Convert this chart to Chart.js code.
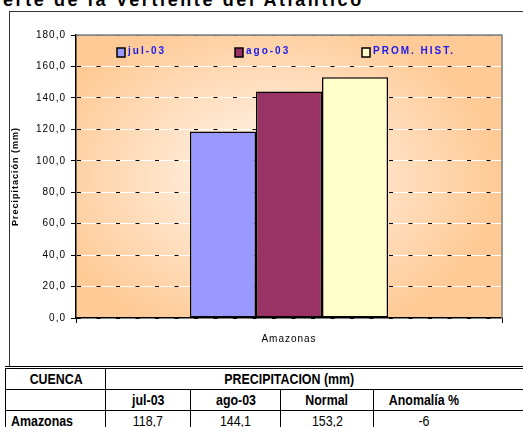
<!DOCTYPE html>
<html>
<head>
<meta charset="utf-8">
<script src="https://cdn.jsdelivr.net/npm/chart.js@4.4.0/dist/chart.umd.min.js"></script>
<style>
  html, body { margin: 0; padding: 0; background: #fff; width: 523px; height: 427px; overflow: hidden; position: relative; font-family: Arial, "Liberation Sans", sans-serif; }
  #title { position: absolute; left: 3px; top: -9px; font-size: 18px; line-height: 18px; font-weight: bold; letter-spacing: 2.6px; white-space: nowrap; color: #000; }
  #frame { position: absolute; left: 9px; top: 11px; width: 540px; height: 356px; border: 1px solid #333; box-sizing: border-box; }
  #chartBox { position: absolute; left: 0; top: 0; width: 523px; height: 366px; }
  #tbl { position: absolute; left: 5px; top: 366px; border-collapse: collapse; table-layout: fixed; font-family: Arial, "Liberation Sans", sans-serif; font-size: 15.5px; color: #000; border-top: 3px double #000; }
  #tbl td { border: 1px solid #000; height: 20px; padding: 0; text-align: center; white-space: nowrap; }
  #tbl td span { display: inline-block; transform: scaleX(0.8); transform-origin: center; }
  #tbl td.b { font-weight: bold; }
  #tbl td.l { text-align: left; padding-left: 5px; }
  #tbl td.l span { transform-origin: left center; }
  #tbl td.last { padding-right: 50px; border-right: none; }
</style>
</head>
<body>
<div id="title">erte de la Vertiente del Atlántico</div>
<div id="frame"></div>
<div id="chartBox"><canvas id="chart" width="523" height="366"></canvas></div>
<table id="tbl">
  <colgroup><col style="width:101px"><col style="width:86px"><col style="width:92px"><col style="width:94px"><col style="width:150px"></colgroup>
  <tbody id="tblBody"></tbody>
</table>
<script>
// Chart data
const categories = ['Amazonas'];
const seriesLabels = ['jul-03', 'ago-03', 'PROM. HIST.'];
const jul03 = [118.7];
const ago03 = [144.1];
const promHist = [153.2];
const anomalia = [-6];
const tableHeads = ['jul-03', 'ago-03', 'Normal', 'Anomalía %'];
const yMin = 0, yMax = 180, yStep = 20;

const barColors = ['#9999ff', '#993366', '#ffffcc'];

function fmt(v) {
    return v.toFixed(1).replace('.', ',');
}

// Fill the table below the chart
function populateTable() {
    const body = document.getElementById('tblBody');
    let html = '<tr><td class="b"><span>CUENCA</span></td><td class="b last" colspan="4"><span>PRECIPITACION (mm)</span></td></tr>';
    html += '<tr><td></td>' + tableHeads.map((h, i) =>
        `<td class="b${i === tableHeads.length - 1 ? ' last' : ''}"><span>${h}</span></td>`).join('') + '</tr>';
    html += categories.map((c, i) => `
        <tr>
            <td class="b l"><span>${c}</span></td>
            <td><span>${fmt(jul03[i])}</span></td>
            <td><span>${fmt(ago03[i])}</span></td>
            <td><span>${fmt(promHist[i])}</span></td>
            <td class="last"><span>${anomalia[i]}</span></td>
        </tr>`).join('');
    body.innerHTML = html;
}

// Orange "from center" fill behind the plot
const plotBackground = {
    id: 'plotBackground',
    beforeDraw(chart) {
        const { ctx, chartArea: a } = chart;
        const cx = a.left + a.width * 0.45, cy = a.top + a.height * 0.5;
        ctx.save();
        ctx.translate(cx, cy);
        ctx.scale(1, 0.72);
        const g = ctx.createRadialGradient(0, 0, 0, 0, 0, 230);
        g.addColorStop(0, '#fff4ea');
        g.addColorStop(0.35, '#ffe8d2');
        g.addColorStop(1, '#ffca96');
        ctx.fillStyle = g;
        ctx.fillRect(a.left - cx, (a.top - cy) / 0.72, a.width, a.height / 0.72);
        ctx.restore();
        ctx.letterSpacing = '1px';
    },
    afterDraw(chart) {
        // grey plot border on top and right
        const { ctx, chartArea: a } = chart;
        ctx.save();
        ctx.strokeStyle = '#808080';
        ctx.lineWidth = 1.5;
        ctx.beginPath();
        ctx.moveTo(a.left, a.top);
        ctx.lineTo(a.right, a.top);
        ctx.lineTo(a.right, a.bottom);
        ctx.stroke();
        ctx.restore();
    }
};

// Legend drawn inside the plot, like the original
const insideLegend = {
    id: 'insideLegend',
    afterDatasetsDraw(chart) {
        const { ctx, chartArea: a } = chart;
        const offsets = [41, 159, 286];
        chart.data.datasets.forEach((ds, i) => {
            const x = a.left + offsets[i], y = a.top + 13;
            ctx.save();
            ctx.fillStyle = ds.backgroundColor;
            ctx.fillRect(x, y, 8, 9);
            ctx.strokeStyle = '#000';
            ctx.lineWidth = 1.5;
            ctx.strokeRect(x, y, 8, 9);
            ctx.fillStyle = '#1a1aee';
            ctx.font = 'bold 10px Arial';
            ctx.letterSpacing = '2px';
            ctx.textBaseline = 'middle';
            ctx.fillText(ds.label, x + 11, y + 3);
            ctx.restore();
        });
    }
};

function createBarChart(ctx) {
    const series = [jul03, ago03, promHist];
    return new Chart(ctx, {
        type: 'bar',
        data: {
            labels: categories,
            datasets: series.map((d, i) => ({
                label: seriesLabels[i],
                data: d,
                backgroundColor: barColors[i],
                borderColor: '#000',
                borderWidth: 1.5,
                borderSkipped: false,
                categoryPercentage: 0.465,
                barPercentage: 1,
                yAxisID: 'y'
            }))
        },
        options: {
            responsive: false,
            animation: false,
            events: [],
            layout: { padding: { left: 10, right: 21, top: 35, bottom: 0 } },
            plugins: { legend: { display: false }, tooltip: { enabled: false } },
            scales: {
                x: {
                    offset: true,
                    ticks: { color: '#000', font: { family: 'Arial', size: 10 }, padding: 10 },
                    grid: { offset: true, drawOnChartArea: false, tickLength: 5, color: '#000', lineWidth: 1 },
                    border: { color: '#000', width: 1.5 },
                    afterFit: s => { s.height = 48; }
                },
                y: {
                    min: yMin,
                    max: yMax,
                    ticks: { stepSize: yStep, color: '#000', font: { family: 'Arial', size: 10 }, padding: 5, callback: v => fmt(v) },
                    grid: {
                        color: c => (c.tick && c.tick.value === yMax) ? '#a0a0a0' : '#ffffff',
                        lineWidth: 1,
                        tickLength: 5,
                        tickColor: '#000'
                    },
                    border: { color: '#000', width: 1.5 },
                    title: { display: true, text: 'Precipitación (mm)', color: '#000', font: { family: 'Arial', size: 9, weight: 'bold' }, padding: { top: 0, bottom: 0 } },
                    afterFit: s => { s.width = 66; }
                },
                // second axis only to draw the black dashes over the white grid lines
                yDash: {
                    position: 'left',
                    min: yMin,
                    max: yMax,
                    ticks: { display: false, stepSize: yStep },
                    grid: { color: c => (c.tick && c.tick.value === yMax) ? '#606060' : '#000', lineWidth: 1, drawTicks: false },
                    border: { display: false, dash: [4, 15.5], dashOffset: 18.5 },
                    afterFit: s => { s.width = 0; }
                }
            }
        },
        plugins: [plotBackground, insideLegend]
    });
}

populateTable();
createBarChart(document.getElementById('chart'));
</script>
</body>
</html>
